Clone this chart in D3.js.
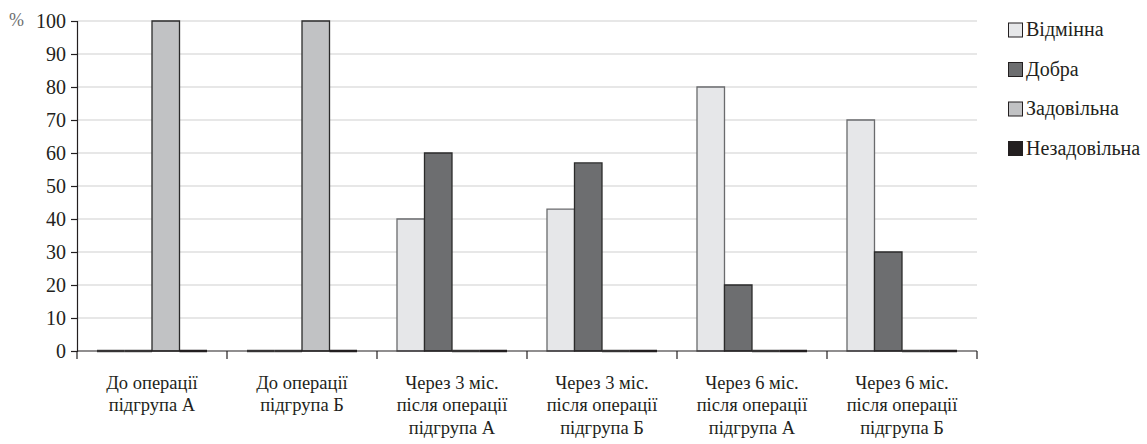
<!DOCTYPE html>
<html>
<head>
<meta charset="utf-8">
<script src="https://cdn.jsdelivr.net/npm/d3@7"></script>
<style>
  html, body { margin: 0; padding: 0; background: #fff; }
</style>
</head>
<body>
<svg id="chart" width="1147" height="444"></svg>
<script>
// Category labels (each entry is a list of lines)
const categories = [
  ["До операції", "підгрупа А"],
  ["До операції", "підгрупа Б"],
  ["Через 3 міс.", "після операції", "підгрупа А"],
  ["Через 3 міс.", "після операції", "підгрупа Б"],
  ["Через 6 міс.", "після операції", "підгрупа А"],
  ["Через 6 міс.", "після операції", "підгрупа Б"]
];
const seriesNames = ["Відмінна", "Добра", "Задовільна", "Незадовільна"];
// Share of patients per outcome, % (one array per series, ordered by category)
const excellent      = [0, 0, 40, 43, 80, 70];
const good           = [0, 0, 60, 57, 20, 30];
const satisfactory   = [100, 100, 0, 0, 0, 0];
const unsatisfactory = [0, 0, 0, 0, 0, 0];
const yTicks = [0, 10, 20, 30, 40, 50, 60, 70, 80, 90, 100];

const seriesValues = [excellent, good, satisfactory, unsatisfactory];
const colors = ["#e6e7e9", "#6d6e70", "#c1c2c4", "#231f20"];
const strokes = ["#6a6b6d", "#2b2b2b", "#2b2b2b", "#231f20"];
const FONT = "'Liberation Serif', 'Times New Roman', serif";
const INK = "#231f20";

const svg = d3.select("#chart");
const x0 = 77, x1 = 977, yTop = 21, yBot = 351;

const x = d3.scaleBand().domain(d3.range(categories.length)).range([x0, x1]).padding(0);
const xs = d3.scaleBand().domain(d3.range(seriesNames.length))
  .range([0, x.bandwidth()]).paddingInner(0).paddingOuter(0.727);
const y = d3.scaleLinear().domain([0, 100]).range([yBot, yTop]);

// Gridlines
svg.append("g")
  .selectAll("line")
  .data(yTicks.filter(d => d > 0))
  .join("line")
  .attr("x1", x0).attr("x2", x1)
  .attr("y1", d => y(d)).attr("y2", d => y(d))
  .attr("stroke", "#cfcfcf").attr("stroke-width", 1);

// Bars drawn as closed paths so zero values still show as a thin line
const bars = svg.append("g");
seriesValues.forEach((vals, si) => {
  bars.selectAll(null)
    .data(vals.map((v, ci) => ({ v, ci })))
    .join("path")
    .attr("d", d => {
      const bx = x(d.ci) + xs(si);
      const w = xs.bandwidth();
      return `M${bx},${y(0)}H${bx + w}V${y(d.v)}H${bx}Z`;
    })
    .attr("fill", colors[si])
    .attr("stroke", d => d.v === 0 ? (si === 3 ? "#231f20" : "#4a4a4a") : strokes[si])
    .attr("stroke-width", d => d.v === 0 ? 2.4 : 1.3);
});

// Y axis
const yAxis = svg.append("g")
  .attr("transform", `translate(${x0},0)`)
  .call(d3.axisLeft(y).tickValues(yTicks).tickSize(6).tickPadding(5));
yAxis.select(".domain").attr("stroke", INK).attr("stroke-width", 1.2);
yAxis.selectAll(".tick line").attr("stroke", INK).attr("stroke-width", 1.2);
yAxis.selectAll(".tick text")
  .attr("dy", "0.34em")
  .style("font-family", FONT)
  .style("font-size", "20px")
  .attr("fill", INK);

svg.append("text").attr("x", 9).attr("y", 26)
  .style("font-family", FONT).style("font-size", "18px")
  .attr("fill", "#6d6e70").text("%");

// X axis: baseline with boundary ticks
const xAxis = svg.append("g");
xAxis.append("line").attr("x1", x0).attr("x2", x1).attr("y1", yBot).attr("y2", yBot)
  .attr("stroke", INK).attr("stroke-width", 1.2);
xAxis.selectAll(".bt")
  .data(d3.range(categories.length + 1))
  .join("line")
  .attr("x1", i => i < categories.length ? x(i) : x1)
  .attr("x2", i => i < categories.length ? x(i) : x1)
  .attr("y1", yBot).attr("y2", yBot + 8)
  .attr("stroke", INK).attr("stroke-width", 1.2);

categories.forEach((lines, ci) => {
  const t = svg.append("text")
    .attr("text-anchor", "middle")
    .style("font-family", FONT)
    .style("font-size", "19.5px")
    .attr("fill", INK)
    .attr("transform", `translate(${x(ci) + x.bandwidth() / 2},0) scale(0.95,1)`);
  lines.forEach((ln, li) => {
    t.append("tspan").attr("x", 0).attr("y", 389 + li * 22.5).text(ln);
  });
});

// Legend
const legend = svg.append("g");
seriesNames.forEach((name, i) => {
  const cy = 30 + i * 39.5;
  legend.append("rect").attr("x", 1008.5).attr("y", cy - 7).attr("width", 14).attr("height", 14)
    .attr("fill", colors[i]).attr("stroke", INK).attr("stroke-width", 1);
  legend.append("text")
    .attr("x", 1026).attr("y", cy + 6)
    .style("font-family", FONT)
    .style("font-size", "20px")
    .attr("fill", INK)
    .text(name);
});
</script>
</body>
</html>
